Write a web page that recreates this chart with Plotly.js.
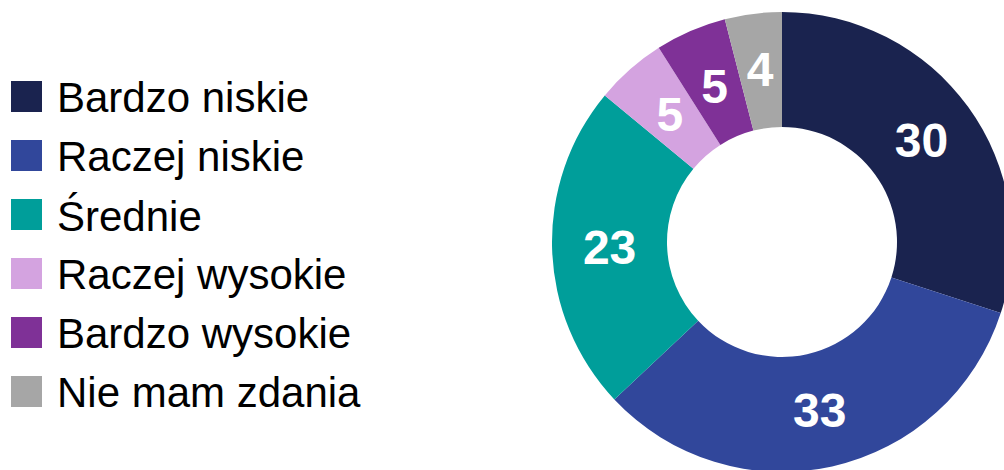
<!DOCTYPE html>
<html>
<head>
<meta charset="utf-8">
<script src="https://cdn.plot.ly/plotly-3.0.1.min.js"></script>
<style>
html,body{margin:0;padding:0;overflow:hidden;background:#fff;}
#chart{width:1014px;height:474px;}
</style>
</head>
<body>
<div id="chart"></div>
<script>
var categories = ["Bardzo niskie", "Raczej niskie", "Średnie", "Raczej wysokie", "Bardzo wysokie", "Nie mam zdania"];
var values = [30, 33, 23, 5, 5, 4];
var colors = ["#1a234f", "#31479b", "#009e9a", "#d4a3e0", "#7f3197", "#a6a6a6"];

var W = 1014, H = 474;
function px(x) { return x / W; }
function py(y) { return (H - y) / H; }

var cx = 782, cy = 242, R = 230, Rsmall = 196;
var labelFont = { family: "Arial, Liberation Sans, sans-serif", size: 48, color: "#ffffff", weight: "bold" };

// main ring: labels of the wide slices
var trace = {
  type: "pie",
  labels: categories,
  values: values,
  marker: { colors: colors, line: { width: 0 } },
  hole: 0.5,
  sort: false,
  direction: "clockwise",
  rotation: 0,
  text: values.map(function (v) { return v >= 10 ? String(v) : ""; }),
  textinfo: "text",
  textposition: "inside",
  insidetextorientation: "horizontal",
  insidetextfont: labelFont,
  hoverinfo: "label+value",
  showlegend: false,
  domain: { x: [px(cx - R), px(cx + R)], y: [py(cy + R), py(cy - R)] }
};

// transparent overlay: places the labels of the narrow slices at mid-ring
var overlay = {
  type: "pie",
  labels: categories,
  values: values,
  marker: { colors: categories.map(function () { return "rgba(0,0,0,0)"; }), line: { width: 0 } },
  hole: 0.5,
  sort: false,
  direction: "clockwise",
  rotation: 0,
  text: values.map(function (v) { return v < 10 ? String(v) : ""; }),
  textinfo: "text",
  textposition: "inside",
  insidetextorientation: "horizontal",
  insidetextfont: labelFont,
  hoverinfo: "skip",
  showlegend: false,
  domain: { x: [px(cx - Rsmall), px(cx + Rsmall)], y: [py(cy + Rsmall), py(cy - Rsmall)] }
};

var annotations = [], shapes = [];
var rowTop = 81, rowStep = 59, sq = 31;
categories.forEach(function (c, i) {
  var top = rowTop + i * rowStep;
  shapes.push({
    type: "rect", xref: "paper", yref: "paper",
    x0: px(11), x1: px(11 + sq), y0: py(top + sq), y1: py(top),
    fillcolor: colors[i], line: { width: 0 }
  });
  annotations.push({
    xref: "paper", yref: "paper", x: px(55), y: py(top + sq / 2 + 1),
    xanchor: "left", yanchor: "middle", showarrow: false,
    text: c, font: { family: "Arial, Liberation Sans, sans-serif", size: 42, color: "#000000" }
  });
});

var layout = {
  width: W, height: H,
  margin: { l: 0, r: 0, t: 0, b: 0 },
  paper_bgcolor: "#ffffff",
  showlegend: false,
  uniformtext: { mode: "show", minsize: 48 },
  annotations: annotations,
  shapes: shapes
};

Plotly.newPlot("chart", [trace, overlay], layout, { displayModeBar: false, staticPlot: true });
</script>
</body>
</html>
